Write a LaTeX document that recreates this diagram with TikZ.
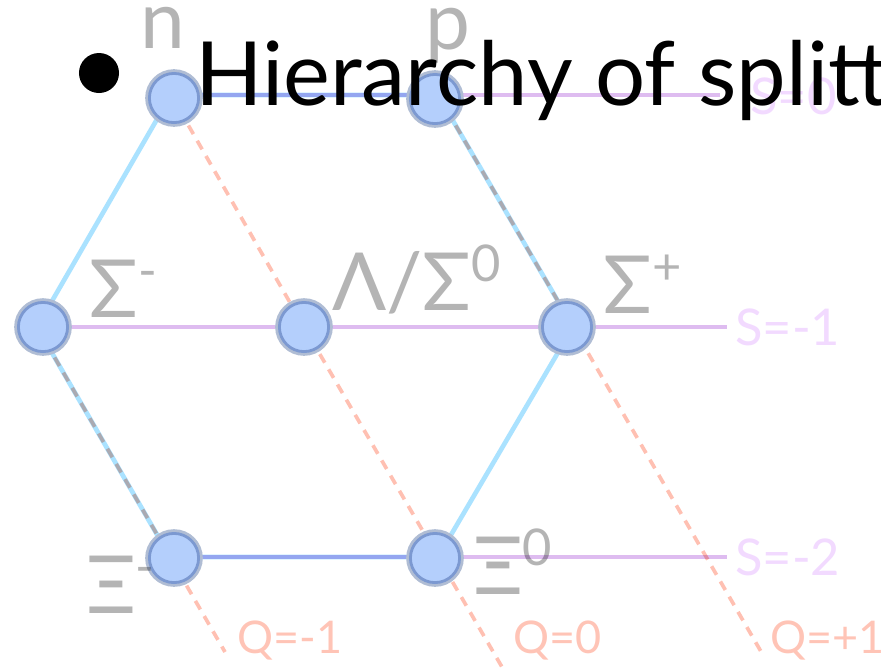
\documentclass[tikz,border=0pt]{standalone}
\usepackage{fontspec}
\setmainfont{Lato}
\definecolor{hexline}{RGB}{170,226,255}
\definecolor{sline}{RGB}{222,188,240}
\definecolor{qline}{RGB}{255,192,178}
\definecolor{ballfill}{RGB}{180,207,252}
\definecolor{ballring}{RGB}{176,189,212}
\definecolor{lbl}{RGB}{180,180,180}
\definecolor{slbl}{RGB}{242,218,255}
\definecolor{qlbl}{RGB}{255,196,182}
\newcommand{\chg}[1]{\raisebox{20pt}{\fontsize{36}{36}\selectfont #1}}

\begin{document}
\begin{tikzpicture}[x=0.025cm,y=-0.025cm,
 hex/.style={hexline,line width=3.3pt},
 sl/.style={sline,line width=2.5pt},
 ql/.style={qline,line width=2.6pt,dash pattern=on 7pt off 5.5pt},
 hadron/.style={circle,draw=ballring,fill=ballfill,line width=4pt,minimum size=1.3cm,inner sep=0pt},
 lab/.style={lbl,font=\fontsize{57}{57}\selectfont,anchor=base west,inner sep=0pt},
 slab/.style={slbl,font=\fontsize{36}{36}\selectfont,anchor=west,inner sep=0pt},
 qlab/.style={qlbl,font=\fontsize{32}{32}\selectfont,anchor=base west,inner sep=0pt}]
\fill[white] (0,0) rectangle (881,667);
\useasboundingbox (0,0) rectangle (881,667);
\clip (0,0) rectangle (881,667);
% corners of the octet
\coordinate (vn) at (171,95);
\coordinate (vp) at (438,95);
\coordinate (vsp) at (573,327);
\coordinate (vx0) at (438,557);
\coordinate (vxm) at (170,557);
\coordinate (vsm) at (37,327);
\coordinate (vl) at (304,327);
% free ends of the S and Q lines
\coordinate (s0e) at (720,95);
\coordinate (s1e) at (727,327);
\coordinate (s2e) at (727,557);
\coordinate (q1e) at (225,652);
\coordinate (q0e) at (502,667);
\coordinate (qpe) at (763,655);
\begin{scope}[blend mode=multiply]
\draw[hex] (vn) -- (vp) -- (vsp) -- (vx0) -- (vxm) -- (vsm) -- cycle;
\draw[sl] (vn) -- (s0e);
\draw[sl] (vsm) -- (s1e);
\draw[sl] (vxm) -- (s2e);
\draw[ql] (vsm) -- (vxm) -- (q1e);
\draw[ql] (vn) -- (vl) -- (vx0) -- (q0e);
\draw[ql] (vp) -- (vsp) -- (qpe);
\end{scope}
\begin{scope}[blend group=multiply]
\node[hadron] (n) at (174,98) {};
\node[hadron] (p) at (435,99) {};
\node[hadron] (sm) at (43,327) {};
\node[hadron] (l0) at (304,327) {};
\node[hadron] (sp) at (567,327) {};
\node[hadron] (xm) at (174,558) {};
\node[hadron] (x0) at (435,558) {};
\end{scope}
\begin{scope}[blend mode=multiply]
\node[lab] (nlab) at (140,48) {n};
\node[lab] (plab) at (425,49) {p};
\node[lab] (smlab) at (89,317) {Σ\chg{-}};
\node[lab] (l0lab) at (332,310) {Λ/Σ\chg{0}};
\node[lab] (splab) at (603,313) {Σ\chg{+}};
\node[lab] (xmlab) at (86,613) {Ξ\chg{-}};
\node[lab] (x0lab) at (473,594) {Ξ\chg{0}};
\node[slab] (s0lab) at (750,96) {S=0};
\node[slab] (s1lab) at (735,327) {S=-1};
\node[slab] (s2lab) at (735,557) {S=-2};
\node[qlab] (q1lab) at (237,653) {Q=-1};
\node[qlab] (q0lab) at (513,653) {Q=0};
\node[qlab] (qplab) at (770,653) {Q=+1};
\end{scope}
\node[circle,fill=black,minimum size=1cm,inner sep=0pt] (bullet) at (99,73) {};
\node[anchor=base west,font=\fontsize{63}{63}\selectfont,inner sep=0pt] (title) at (195,105) {Hierarchy of splitt};
\end{tikzpicture}
\end{document}
